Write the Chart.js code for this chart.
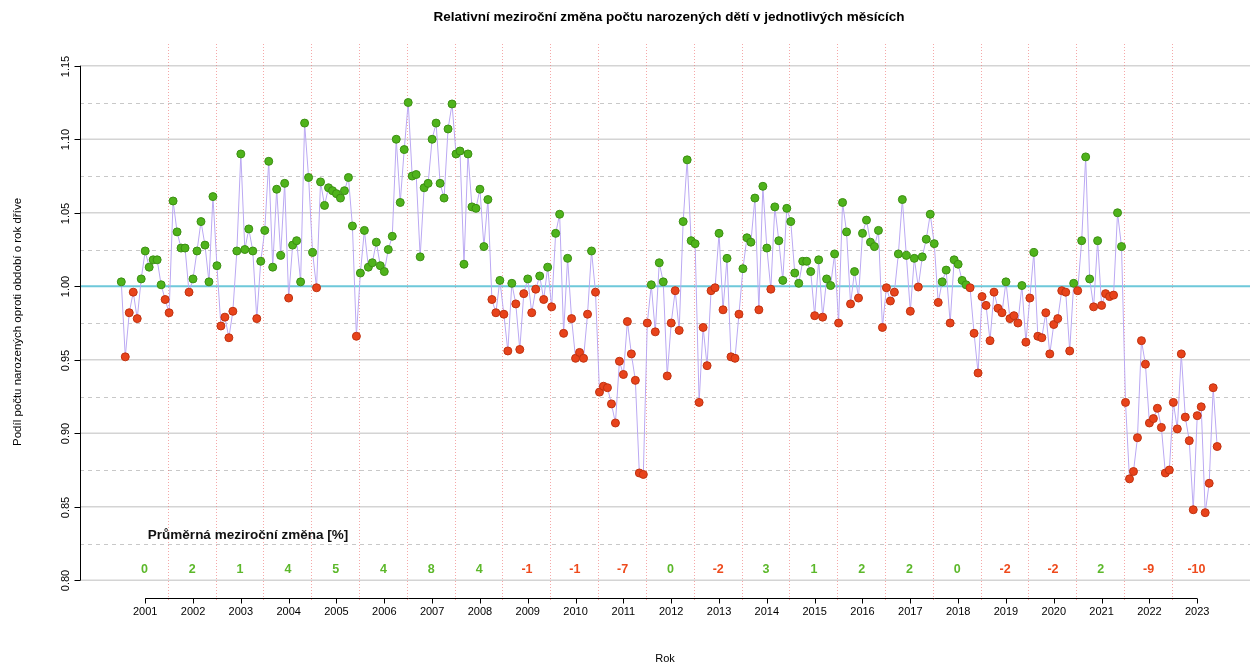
<!DOCTYPE html>
<html lang="cs">
<head>
<meta charset="utf-8">
<title>Relativní meziroční změna počtu narozených dětí</title>
<script src="https://cdn.jsdelivr.net/npm/chart.js@4.4.1/dist/chart.umd.min.js"></script>
<style>
  html, body { margin: 0; padding: 0; background: #fff; overflow: hidden; }
  canvas { display: block; }
</style>
</head>
<body>
<canvas id="graf" width="1250" height="669"></canvas>
<script>
/* DATA */
const roky = ["2001","2002","2003","2004","2005","2006","2007","2008","2009","2010","2011","2012",
  "2013","2014","2015","2016","2017","2018","2019","2020","2021","2022","2023"];

// podil narozenych oproti stejnemu mesici o rok drive, leden 2001 - prosinec 2023
const podil = [
  1.003, 0.952, 0.982, 0.996, 0.978, 1.005, 1.024, 1.013, 1.018, 1.018, 1.001, 0.991, // 2001
  0.982, 1.058, 1.037, 1.026, 1.026, 0.996, 1.005, 1.024, 1.044, 1.028, 1.003, 1.061, // 2002
  1.014, 0.973, 0.979, 0.965, 0.983, 1.024, 1.090, 1.025, 1.039, 1.024, 0.978, 1.017, // 2003
  1.038, 1.085, 1.013, 1.066, 1.021, 1.070, 0.992, 1.028, 1.031, 1.003, 1.111, 1.074, // 2004
  1.023, 0.999, 1.071, 1.055, 1.067, 1.065, 1.063, 1.060, 1.065, 1.074, 1.041, 0.966, // 2005
  1.009, 1.038, 1.013, 1.016, 1.030, 1.014, 1.010, 1.025, 1.034, 1.100, 1.057, 1.093, // 2006
  1.125, 1.075, 1.076, 1.020, 1.067, 1.070, 1.100, 1.111, 1.070, 1.060, 1.107, 1.124, // 2007
  1.090, 1.092, 1.015, 1.090, 1.054, 1.053, 1.066, 1.027, 1.059, 0.991, 0.982, 1.004, // 2008
  0.981, 0.956, 1.002, 0.988, 0.957, 0.995, 1.005, 0.982, 0.998, 1.007, 0.991, 1.013, // 2009
  0.986, 1.036, 1.049, 0.968, 1.019, 0.978, 0.951, 0.955, 0.951, 0.981, 1.024, 0.996, // 2010
  0.928, 0.932, 0.931, 0.920, 0.907, 0.949, 0.940, 0.976, 0.954, 0.936, 0.873, 0.872, // 2011
  0.975, 1.001, 0.969, 1.016, 1.003, 0.939, 0.975, 0.997, 0.970, 1.044, 1.086, 1.031, // 2012
  1.029, 0.921, 0.972, 0.946, 0.997, 0.999, 1.036, 0.984, 1.019, 0.952, 0.951, 0.981, // 2013
  1.012, 1.033, 1.030, 1.060, 0.984, 1.068, 1.026, 0.998, 1.054, 1.031, 1.004, 1.053, // 2014
  1.044, 1.009, 1.002, 1.017, 1.017, 1.010, 0.980, 1.018, 0.979, 1.005, 1.0005, 1.022, // 2015
  0.975, 1.057, 1.037, 0.988, 1.010, 0.992, 1.036, 1.045, 1.030, 1.027, 1.038, 0.972, // 2016
  0.999, 0.990, 0.996, 1.022, 1.059, 1.021, 0.983, 1.019, 0.9995, 1.020, 1.032, 1.049, // 2017
  1.029, 0.989, 1.003, 1.011, 0.975, 1.018, 1.015, 1.004, 1.001, 0.999, 0.968, 0.941, // 2018
  0.993, 0.987, 0.963, 0.996, 0.985, 0.982, 1.003, 0.978, 0.980, 0.975, 1.0005, 0.962, // 2019
  0.992, 1.023, 0.966, 0.965, 0.982, 0.954, 0.974, 0.978, 0.997, 0.996, 0.956, 1.002, // 2020
  0.997, 1.031, 1.088, 1.005, 0.986, 1.031, 0.987, 0.995, 0.993, 0.994, 1.050, 1.027, // 2021
  0.921, 0.869, 0.874, 0.897, 0.963, 0.947, 0.907, 0.910, 0.917, 0.904, 0.873, 0.875, // 2022
  0.921, 0.903, 0.954, 0.911, 0.895, 0.848, 0.912, 0.918, 0.846, 0.866, 0.931, 0.891  // 2023
];

// prumerna mezirocni zmena v % (popisky dole)
const prumerZmena = [0, 2, 1, 4, 5, 4, 8, 4, -1, -1, -7, 0, -2, 3, 1, 2, 2, 0, -2, -2, 2, -9, -10];

const yTicks = [0.80, 0.85, 0.90, 0.95, 1.00, 1.05, 1.10, 1.15];
const yMezi = [0.825, 0.875, 0.925, 0.975, 1.025, 1.075, 1.125];

const NADPIS = "Relativní meziroční změna počtu narozených dětí v jednotlivých měsících";

/* BARVY */
const ZELENA = "#4fb31b";
const ZELENA_OKRAJ = "#3b8f12";
const CERVENA = "#e8431b";
const CERVENA_OKRAJ = "#bf3210";
const PISMO = "'Liberation Sans', Arial, Helvetica, sans-serif";

Chart.defaults.font.family = PISMO;
Chart.defaults.color = "#000";

/* KRESLENI OS A MRIZKY VE STYLU R */
const rStyl = {
  id: "rStyl",
  beforeDatasetsDraw(chart) {
    const { ctx, chartArea: a, scales: { x, y } } = chart;
    ctx.save();

    // vodorovna mrizka
    ctx.strokeStyle = "#d4d4d4";
    ctx.lineWidth = 1.5;
    yTicks.forEach(v => {
      if (v === 1) return;
      const py = y.getPixelForValue(v);
      ctx.beginPath(); ctx.moveTo(a.left, py); ctx.lineTo(a.right, py); ctx.stroke();
    });
    ctx.setLineDash([4, 4]);
    ctx.strokeStyle = "#c8c8c8";
    ctx.lineWidth = 1;
    yMezi.forEach(v => {
      const py = Math.round(y.getPixelForValue(v)) + 0.5;
      ctx.beginPath(); ctx.moveTo(a.left, py); ctx.lineTo(a.right, py); ctx.stroke();
    });

    // hranice roku
    ctx.setLineDash([1, 2]);
    ctx.strokeStyle = "rgba(238, 110, 110, 0.6)";
    for (let k = 1; k < roky.length; k++) {
      const px = Math.round(x.getPixelForValue(k * 12 - 0.35)) + 0.5;
      ctx.beginPath(); ctx.moveTo(px, a.top); ctx.lineTo(px, a.bottom); ctx.stroke();
    }

    // referencni hodnota 1
    ctx.setLineDash([]);
    ctx.strokeStyle = "#6ec8da";
    ctx.lineWidth = 2;
    const p1 = y.getPixelForValue(1);
    ctx.beginPath(); ctx.moveTo(a.left, p1); ctx.lineTo(a.right, p1); ctx.stroke();

    ctx.restore();
  },
  afterDraw(chart) {
    const { ctx, chartArea: a, scales: { x, y } } = chart;
    ctx.save();
    ctx.strokeStyle = "#000";
    ctx.fillStyle = "#000";
    ctx.lineWidth = 1;

    // nadpis nad oblasti grafu
    ctx.font = "bold 13.5px " + PISMO;
    ctx.textAlign = "center";
    ctx.textBaseline = "middle";
    ctx.fillText(NADPIS, (a.left + a.right) / 2 + 4, 17);

    // osa y
    const osaX = a.left + 0.5;
    ctx.beginPath();
    ctx.moveTo(osaX, y.getPixelForValue(yTicks[0]));
    ctx.lineTo(osaX, y.getPixelForValue(yTicks[yTicks.length - 1]));
    ctx.stroke();
    ctx.font = "11px " + PISMO;
    yTicks.forEach(v => {
      const py = Math.round(y.getPixelForValue(v)) + 0.5;
      ctx.beginPath(); ctx.moveTo(osaX - 6, py); ctx.lineTo(osaX, py); ctx.stroke();
      ctx.save();
      ctx.translate(a.left - 14, py);
      ctx.rotate(-Math.PI / 2);
      ctx.fillText(v.toFixed(2), 0, 0);
      ctx.restore();
    });

    // osa x
    const osaY = a.bottom - 1.5;
    ctx.beginPath();
    ctx.moveTo(x.getPixelForValue(6), osaY);
    ctx.lineTo(x.getPixelForValue((roky.length - 1) * 12 + 6), osaY);
    ctx.stroke();
    roky.forEach((r, i) => {
      const px = Math.round(x.getPixelForValue(i * 12 + 6)) + 0.5;
      ctx.beginPath(); ctx.moveTo(px, osaY); ctx.lineTo(px, osaY + 5); ctx.stroke();
    });

    // prumerne zmeny
    ctx.font = "bold 13.5px " + PISMO;
    ctx.fillStyle = "#111";
    ctx.fillText("Průměrná meziroční změna [%]", x.getPixelForValue(31.8), y.getPixelForValue(0.8305));
    ctx.font = "bold 12.5px " + PISMO;
    prumerZmena.forEach((z, i) => {
      ctx.fillStyle = z >= 0 ? "#5cb82a" : "#ee4a1c";
      ctx.fillText(String(z), x.getPixelForValue(i * 12 + 5.8), y.getPixelForValue(0.8075));
    });

    ctx.restore();
  }
};

/* GRAF */
new Chart(document.getElementById("graf"), {
  type: "line",
  data: {
    datasets: [{
      data: podil.map((v, i) => ({ x: i, y: v })),
      borderColor: "#bba9f3",
      borderWidth: 1,
      tension: 0,
      pointRadius: 4,
      pointBorderWidth: 1,
      pointBackgroundColor: c => (c.raw && c.raw.y >= 1 ? ZELENA : CERVENA),
      pointBorderColor: c => (c.raw && c.raw.y >= 1 ? ZELENA_OKRAJ : CERVENA_OKRAJ)
    }]
  },
  options: {
    responsive: false,
    animation: false,
    devicePixelRatio: 1,
    layout: { autoPadding: false, padding: { left: 0, right: 0, top: 44, bottom: 0 } },
    plugins: {
      legend: { display: false },
      tooltip: { enabled: false },
      title: { display: false }
    },
    scales: {
      x: {
        type: "linear",
        min: -10.36,
        max: 283.24,
        grid: { display: false, drawTicks: false },
        border: { display: false },
        afterBuildTicks: s => { s.ticks = roky.map((r, i) => ({ value: i * 12 + 6 })); },
        afterFit: s => { s.height = 69; s.paddingLeft = 0; s.paddingRight = 0; },
        ticks: {
          autoSkip: false,
          maxRotation: 0,
          padding: 5,
          font: { size: 11 },
          color: "#000",
          callback: v => roky[Math.round((v - 6) / 12)]
        },
        title: {
          display: true,
          text: "Rok",
          font: { size: 11 },
          color: "#000",
          padding: { top: 0, bottom: 3 }
        }
      },
      y: {
        type: "linear",
        min: 0.7866,
        max: 1.1648,
        grid: { display: false },
        border: { display: false },
        ticks: { display: false },
        afterFit: s => { s.width = 80; s.paddingTop = 0; s.paddingBottom = 0; },
        title: {
          display: true,
          text: "Podíl počtu narozených oproti období o rok dříve",
          font: { size: 11.5 },
          color: "#000",
          padding: { top: 11, bottom: 0 }
        }
      }
    }
  },
  plugins: [rStyl]
});
</script>
</body>
</html>
